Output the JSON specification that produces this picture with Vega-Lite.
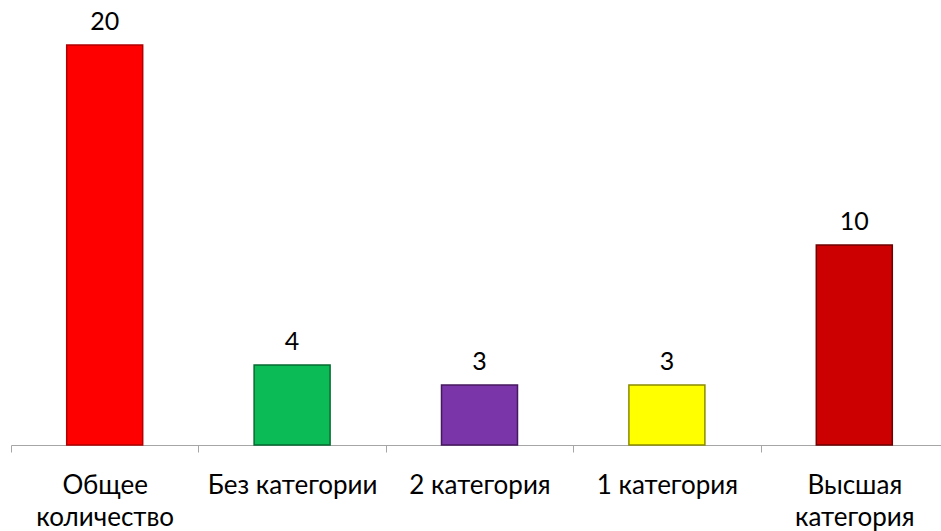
{
  "$schema": "https://vega.github.io/schema/vega-lite/v6.json",
  "autosize": "none",
  "width": 937,
  "height": 400,
  "padding": {"left": 11, "top": 45, "right": 0, "bottom": 86},
  "background": "white",
  "config": {"view": {"stroke": null}, "font": "Lato"},
  "data": {"values": [
    {"cat": "Общее количество", "value": 20, "color": "#FF0000", "edge": "#B00000"},
    {"cat": "Без категории", "value": 4, "color": "#0BBB55", "edge": "#066B30"},
    {"cat": "2 категория", "value": 3, "color": "#7A35A8", "edge": "#45185F"},
    {"cat": "1 категория", "value": 3, "color": "#FFFF00", "edge": "#8A8A00"},
    {"cat": "Высшая категория", "value": 10, "color": "#CC0000", "edge": "#6E0000"}
  ]},
  "encoding": {
    "x": {
      "field": "cat", "type": "nominal", "sort": null,
      "scale": {"paddingInner": 0, "paddingOuter": 0},
      "axis": {
        "title": null,
        "tickBand": "extent",
        "domainColor": "#A6A6A6",
        "tickColor": "#A6A6A6",
        "tickSize": 7,
        "labelAngle": 0,
        "labelFont": "Lato",
        "labelFontSize": 26,
        "labelColor": "#000000",
        "labelPadding": 41,
        "labelLineHeight": 32,
        "labelBaseline": "alphabetic",
        "labelExpr": "datum.label == 'Общее количество' ? ['Общее','количество'] : datum.label == 'Высшая категория' ? ['Высшая','категория'] : datum.label"
      }
    },
    "y": {
      "field": "value", "type": "quantitative",
      "scale": {"domain": [0, 20], "nice": false},
      "axis": null
    }
  },
  "layer": [
    {
      "mark": {"type": "bar", "width": 76, "strokeWidth": 1.5},
      "encoding": {
        "color": {"field": "color", "type": "nominal", "scale": null},
        "stroke": {"field": "edge", "type": "nominal", "scale": null}
      }
    },
    {
      "mark": {"type": "text", "baseline": "alphabetic", "dy": -15, "fontSize": 25, "font": "Lato", "color": "#000000"},
      "encoding": {"text": {"field": "value", "type": "quantitative"}}
    }
  ]
}
